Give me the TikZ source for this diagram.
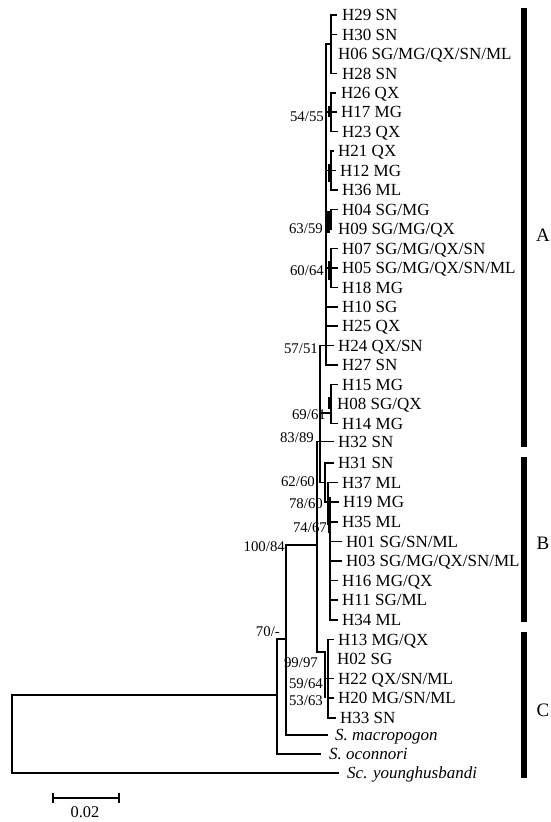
\documentclass[tikz,border=0pt]{standalone}
\usepackage{fontspec}
\setmainfont{Liberation Serif}

\begin{document}
\begin{tikzpicture}[
      x=1pt, y=-1pt,
      branch/.style={line width=1.1pt, line cap=rect},
      stem/.style={line width=2.4pt},
      leaf/.style={
        anchor=base west,
        yshift=-5.7pt,
        inner sep=0pt,
        font=\fontsize{17}{18}\selectfont
      },
      species/.style={
        leaf,
        font=\fontsize{17}{18}\selectfont\itshape
      },
      boot/.style={
        anchor=base east,
        yshift=-5pt,
        inner sep=0pt,
        font=\fontsize{14.8}{16}\selectfont
      },
      cladebar/.style={line width=6pt},
      cladename/.style={inner sep=0pt, font=\fontsize{19}{21}\selectfont}
    ]
    \useasboundingbox (0,0) rectangle (551,822);

    % clade A, upper part
    \draw[branch] (331,15) -- (331,73.5);
    \draw[branch] (326,44) -- (331,44);
    \draw[branch, line width=1.5pt] (326,44) -- (326,365);
    \draw[branch] (331,93) -- (331,131.5);
    \draw[stem] (329,106) -- (329,117);
    \draw[branch] (326,112) -- (331,112);
    \draw[branch] (331,151) -- (331,190);
    \draw[stem] (329,164) -- (329,182);
    \draw[branch] (326,170.5) -- (331,170.5);
    \draw[branch] (331,209.5) -- (331,229);
    \draw[stem] (328.5,211) -- (328.5,233);
    \draw[branch] (326,219) -- (331,219);
    \draw[branch] (331,248.5) -- (331,287.5);
    \draw[stem] (329,261) -- (329,280);
    \draw[branch] (326,268) -- (331,268);
    \draw[branch] (320,345.5) -- (326,345.5);
    \draw[branch] (320,345.5) -- (320,482.5);
    \draw[branch] (331,384.5) -- (331,423.5);
    \draw[stem] (329,397) -- (329,409);
    \draw[branch] (320,413) -- (331,413);
    \draw[branch] (317,441.5) -- (333,441.5);
    \draw[branch] (317,441.5) -- (317,652);

    % clade B
    \draw[branch] (320,482.5) -- (325,482.5);
    \draw[branch] (325,463) -- (325,502);
    \draw[branch] (325,502) -- (328,502);
    \draw[branch] (328,482.5) -- (328,524);
    \draw[branch] (328,524) -- (330,524);
    \draw[branch] (330,522) -- (330,620);
    \draw[stem] (329.5,497) -- (329.5,533);

    % clade C
    \draw[branch] (317,652) -- (325,652);
    \draw[stem] (325,652) -- (325,698);
    \draw[branch] (325,678.5) -- (328,678.5);
    \draw[branch] (328,639.5) -- (328,718);

    % tips
    \foreach \x/\y/\t in {331/15/336, 331/34.5/336, 331/73.5/336,
        331/93/335, 331/112/336, 331/131.5/337,
        331/151/333, 331/170.5/335, 331/190/337,
        331/209.5/337, 331/248.5/337, 331/268/337, 331/287.5/337,
        326/307/337, 326/326/337, 326/345.5/333, 326/365/337,
        331/384.5/337, 331/423.5/337,
        325/463/333, 328/482.5/337, 328/502/338,
        330/522/337, 330/541.5/341, 330/561/341, 330/580.5/337,
        330/600/337, 330/620/337,
        328/639.5/333, 328/678.5/333, 328/698/333, 328/718/335}
      \draw[branch] (\x,\y) -- (\t,\y);

    % outgroups and root
    \draw[branch] (286,545) -- (317,545);
    \draw[branch] (286,545) -- (286,735);
    \draw[branch] (286,735) -- (327,735);
    \draw[branch] (277,639) -- (286,639);
    \draw[branch] (277,639) -- (277,754);
    \draw[branch] (277,754) -- (320,754);
    \draw[branch] (12,695) -- (277,695);
    \draw[branch] (12,695) -- (12,773);
    \draw[branch] (12,773) -- (338,773);

    % haplotypes
    \node[leaf] (h29) at (342,15) {H29 SN};
    \node[leaf] (h30) at (342,34.5) {H30 SN};
    \node[leaf] (h06) at (338,54) {H06 SG/MG/QX/SN/ML};
    \node[leaf] (h28) at (342,73.5) {H28 SN};
    \node[leaf] (h26) at (341,93) {H26 QX};
    \node[leaf] (h17) at (341,112) {H17 MG};
    \node[leaf] (h23) at (342,131.5) {H23 QX};
    \node[leaf] (h21) at (338,151) {H21 QX};
    \node[leaf] (h12) at (340,170.5) {H12 MG};
    \node[leaf] (h36) at (342,190) {H36 ML};
    \node[leaf] (h04) at (342,209.5) {H04 SG/MG};
    \node[leaf] (h09) at (338,229) {H09 SG/MG/QX};
    \node[leaf] (h07) at (342,248.5) {H07 SG/MG/QX/SN};
    \node[leaf] (h05) at (342,268) {H05 SG/MG/QX/SN/ML};
    \node[leaf] (h18) at (342,287.5) {H18 MG};
    \node[leaf] (h10) at (342,307) {H10 SG};
    \node[leaf] (h25) at (342,326) {H25 QX};
    \node[leaf] (h24) at (338,345.5) {H24 QX/SN};
    \node[leaf] (h27) at (342,365) {H27 SN};
    \node[leaf] (h15) at (342,384.5) {H15 MG};
    \node[leaf] (h08) at (337,404) {H08 SG/QX};
    \node[leaf] (h14) at (342,423.5) {H14 MG};
    \node[leaf] (h32) at (338,441.5) {H32 SN};
    \node[leaf] (h31) at (338,463) {H31 SN};
    \node[leaf] (h37) at (342,482.5) {H37 ML};
    \node[leaf] (h19) at (343,502) {H19 MG};
    \node[leaf] (h35) at (342,522) {H35 ML};
    \node[leaf] (h01) at (346,541.5) {H01 SG/SN/ML};
    \node[leaf] (h03) at (346,561) {H03 SG/MG/QX/SN/ML};
    \node[leaf] (h16) at (342,580.5) {H16 MG/QX};
    \node[leaf] (h11) at (342,600) {H11 SG/ML};
    \node[leaf] (h34) at (342,620) {H34 ML};
    \node[leaf] (h13) at (338,639.5) {H13 MG/QX};
    \node[leaf] (h02) at (337,659) {H02 SG};
    \node[leaf] (h22) at (338,678.5) {H22 QX/SN/ML};
    \node[leaf] (h20) at (338,698) {H20 MG/SN/ML};
    \node[leaf] (h33) at (340,718) {H33 SN};
    \node[species] (macro) at (335,735) {S. macropogon};
    \node[species] (ocon) at (329,754) {S. oconnori};
    \node[species] (young) at (347,773) {Sc. younghusbandi};

    % bootstrap values
    \node[boot] (b5455) at (324,116) {54/55};
    \node[boot] (b6359) at (323,228) {63/59};
    \node[boot] (b6064) at (324,270) {60/64};
    \node[boot] (b5751) at (318,348) {57/51};
    \node[boot] (b6961) at (326,414) {69/61};
    \node[boot] (b8389) at (314,437) {83/89};
    \node[boot] (b6260) at (315,481) {62/60};
    \node[boot] (b7860) at (323,503) {78/60};
    \node[boot] (b7467) at (327,527) {74/67};
    \node[boot] (b10084) at (285,546) {100/84};
    \node[boot] (b70) at (280,631) {70/-};
    \node[boot] (b9997) at (318,662) {99/97};
    \node[boot] (b5964) at (323,683) {59/64};
    \node[boot] (b5363) at (323,700) {53/63};

    % clades
    \draw[cladebar] (524,8) -- (524,447);
    \draw[cladebar] (524,457) -- (524,622);
    \draw[cladebar] (524,632) -- (524,778);
    \node[cladename] (cladeA) at (543,235) {A};
    \node[cladename] (cladeB) at (543,543) {B};
    \node[cladename] (cladeC) at (543,710) {C};

    % scale bar
    \draw[branch] (53,798) -- (119,798);
    \draw[branch] (53,794) -- (53,802);
    \draw[branch] (119,794) -- (119,802);
    \node[inner sep=0pt, font=\fontsize{16.4}{18}\selectfont] (scale) at (85,812) {0.02};
    \end{tikzpicture}
\end{document}
